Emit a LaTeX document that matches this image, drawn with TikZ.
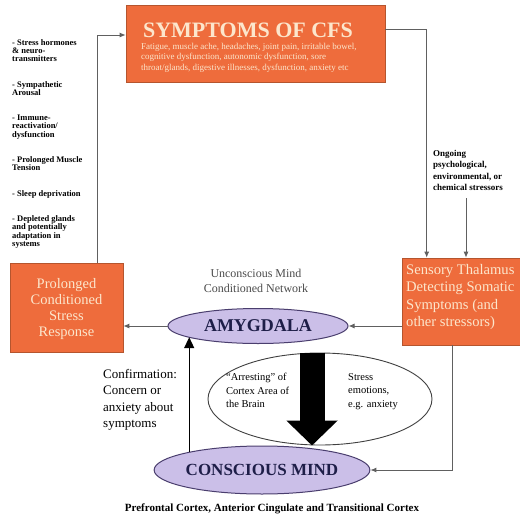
\documentclass[tikz,border=0pt]{standalone}
\usepackage{fontspec}
\setmainfont{Liberation Serif}
\usetikzlibrary{arrows.meta,shapes.geometric}
\definecolor{boxor}{HTML}{EE6C3C}
\definecolor{boxedge}{HTML}{B5552E}
\definecolor{cream}{HTML}{FCE6CC}
\definecolor{lavfill}{HTML}{CBBFE8}
\definecolor{lavedge}{HTML}{4A3E6E}
\definecolor{navy}{HTML}{1E1E48}
\definecolor{wirec}{HTML}{606060}
\newcommand{\fs}[2]{\fontsize{#1}{#2}\selectfont}
\begin{document}
\begin{tikzpicture}[x=1pt,y=-1pt,
  obox/.style={draw=boxedge, line width=0.6pt, fill=boxor, inner sep=0pt},
  lavell/.style={ellipse, draw=lavedge, line width=1pt, fill=lavfill, inner sep=0pt},
  wire/.style={draw=wirec, line width=1pt, -{Latex[length=6pt,width=5pt]}},
  upwire/.style={draw=black, line width=1.4pt, -{Triangle[length=11pt,width=10pt]}},
  big/.style={draw=black, line width=25pt, -{Triangle[length=25pt,width=50pt]}},
  txt/.style={inner sep=0pt, align=left},
]
\useasboundingbox (0,0) rectangle (520,520);
\clip (0,0) rectangle (520,520);
\fill[white] (0,0) rectangle (520,520);

% boxes
\node[obox, minimum width=259pt, minimum height=77pt] (sym) at (255.5,43.5) {};
\node[inner sep=0pt, anchor=base, text=cream, font=\bfseries\fs{22}{24}] (symt) at (248,37) {SYMPTOMS OF CFS};
\node[txt, anchor=north west, text=cream, font=\fs{9}{10.5}] (symb) at (141,43)
 {Fatigue, muscle ache, headaches, joint pain, irritable bowel,\\
  cognitive dysfunction, autonomic dysfunction, sore\\
  throat/glands, digestive illnesses, dysfunction, anxiety etc};

\node[obox, minimum width=113pt, minimum height=89pt] (lbox) at (66.5,307.5) {};
\node[inner sep=0pt, align=center, text=cream, font=\fs{14.5}{16.3}] (lboxt) at (66.5,309)
 {Prolonged\\Conditioned\\Stress\\Response};

\node[obox, minimum width=130pt, minimum height=87pt] (rbox) at (467,301.5) {};
\node[txt, anchor=north west, text=cream, font=\fs{14.6}{17.5}] (rboxt) at (406,264)
 {Sensory Thalamus\\Detecting Somatic\\Symptoms (and\\other stressors)};

% left list
\node[txt, anchor=north west, font=\bfseries\fs{8.5}{8.3}] (list) at (12,39)
 {- Stress hormones\\ \& neuro-\\ transmitters\\[17pt]
  - Sympathetic\\ Arousal\\[17pt]
  - Immune-\\ reactivation/\\ dysfunction\\[17pt]
  - Prolonged Muscle\\ Tension\\[17pt]
  - Sleep deprivation\\[17pt]
  - Depleted glands\\ and potentially\\ adaptation in\\ systems};

% ellipses
\node[lavell, minimum width=180pt, minimum height=35pt, font=\bfseries\fs{18}{20}, text=navy] (amy) at (258,326) {AMYGDALA};
\node[ellipse, draw=black!75, line width=0.9pt, inner sep=0pt, minimum width=224pt, minimum height=92pt] (wh) at (320,399) {};
\node[lavell, minimum width=182pt, minimum height=48pt, font=\bfseries\fs{17}{19}, text=navy] (cm) at (262,470) {CONSCIOUS MIND};

% labels
\node[inner sep=0pt, align=center, text=black!70, font=\fs{12}{15.5}] (unc) at (256,281) {Unconscious Mind\\Conditioned Network};
\node[txt, anchor=north west, font=\fs{13}{16.5}] (conf) at (103,369) {Confirmation:\\Concern or\\anxiety about\\symptoms};
\node[txt, anchor=north west, font=\fs{10.5}{13.5}] (arr) at (226,373) {“Arresting” of\\Cortex Area of\\the Brain};
\node[txt, anchor=north west, font=\fs{10.5}{13.5}] (stre) at (348,373) {Stress\\emotions,\\e.g. anxiety};
\node[txt, anchor=north west, font=\bfseries\fs{9}{11.5}] (ong) at (433,150) {Ongoing\\psychological,\\environmental, or\\chemical stressors};
\node[inner sep=0pt, anchor=base, font=\bfseries\fs{11}{13}] (pfc) at (272,511) {Prefrontal Cortex, Anterior Cingulate and Transitional Cortex};

% connectors
\draw[wire] ([xshift=-26pt]lbox.north east) |- ([yshift=8.5pt]sym.west);
\draw[wire] ([yshift=14.5pt]sym.east) -| ([xshift=25pt]rbox.north west);
\coordinate (ongs) at (466,198);
\draw[wire] (ongs) -- (ongs |- rbox.north);
\draw[wire] (rbox.west |- amy.east) -- (amy.east);
\draw[wire] (amy.west) -- (amy.west -| lbox.east);
\draw[wire] ([xshift=-15pt]rbox.south) |- (cm.east);
\draw[upwire] (cm.166) -- (cm.166 |- amy.189);
\draw[big] ([xshift=-8pt]wh.north) -- ([xshift=-8pt]wh.north |- cm.north);
\end{tikzpicture}
\end{document}
